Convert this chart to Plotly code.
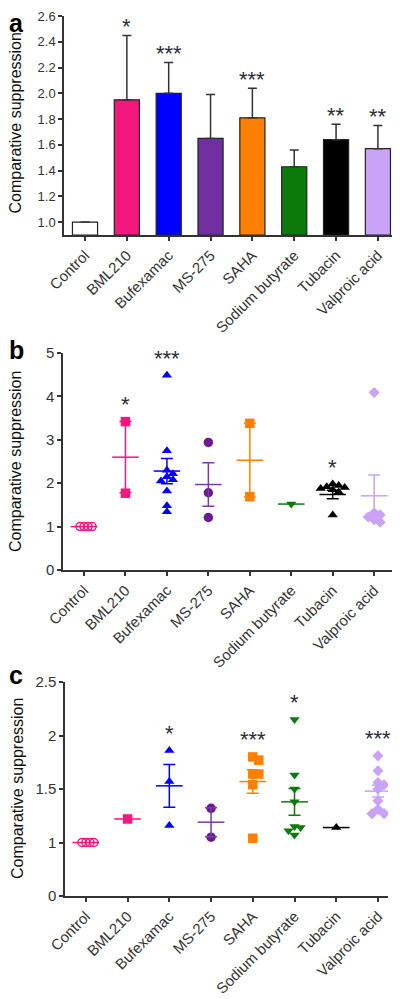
import plotly.graph_objects as go

# ---------------- data ----------------
categories = ["Control", "BML210", "Bufexamac", "MS-275", "SAHA",
              "Sodium butyrate", "Tubacin", "Valproic acid"]

# panel a (bar means and upper error)
a_mean = [1.0, 1.95, 2.0, 1.65, 1.81, 1.43, 1.64, 1.57]
a_err = [0.0, 0.50, 0.24, 0.34, 0.23, 0.13, 0.12, 0.18]
a_stars = ["", "*", "***", "", "***", "", "**", "**"]
a_ticks = [1.0, 1.2, 1.4, 1.6, 1.8, 2.0, 2.2, 2.4, 2.6]

# panel b (individual points, mean, SEM)
b_control = [1.0, 1.0, 1.0, 1.0]
b_bml210 = [3.42, 1.77]
b_bufexamac = [4.49, 2.75, 2.30, 2.22, 2.15, 2.08, 2.05, 1.82, 1.48, 1.34]
b_ms275 = [2.94, 1.78, 1.21]
b_saha = [3.38, 1.69]
b_sodium = [1.52]
b_tubacin = [1.98, 1.95, 1.92, 1.90, 1.88, 1.85, 1.80, 1.27]
b_valproic = [4.09, 1.32, 1.27, 1.22, 1.16, 1.10]
b_mean = [1.0, 2.60, 2.28, 1.97, 2.53, 1.52, 1.74, 1.71]
b_sem = [0.0, 0.82, 0.29, 0.50, 0.85, 0.0, 0.10, 0.48]
b_stars = ["", "*", "***", "", "", "", "*", ""]

# panel c
c_control = [1.0, 1.0, 1.0, 1.0]
c_bml210 = [1.22]
c_bufexamac = [1.86, 1.57, 1.16]
c_ms275 = [1.32, 1.05]
c_saha = [1.80, 1.77, 1.64, 1.64, 1.54, 1.04]
c_sodium = [2.15, 1.63, 1.50, 1.38, 1.15, 1.14, 1.11, 1.07]
c_tubacin = [1.14]
c_valproic = [1.81, 1.67, 1.56, 1.54, 1.50, 1.39, 1.31, 1.27, 1.27]
c_mean = [1.0, 1.22, 1.53, 1.19, 1.57, 1.38, 1.14, 1.48]
c_sem = [0.0, 0.0, 0.20, 0.135, 0.11, 0.125, 0.0, 0.055]
c_stars = ["", "", "*", "", "***", "*", "", "***"]

c_tickvals = [0.5, 1.0, 1.5, 2.0, 2.5]
c_ticktext = ["0", "1", "1.5", "2", "2.5"]

# ---------------- styles ----------------
bar_colors = ["#FFFFFF", "#F2187E", "#0000FF", "#7030A0", "#FF8000",
              "#0B7A0B", "#000000", "#C9A3F6"]
pt_colors = ["#F2187E", "#F2187E", "#0000FF", "#6A1B8E", "#FF8000",
             "#0B7A0B", "#000000", "#C9A3F6"]
mean_colors = ["#F2187E", "#F2187E", "#0000FF", "#7B3AA6", "#FF8000",
               "#0B7A0B", "#000000", "#C9A3F6"]
symbols = ["circle-open", "square", "triangle-up", "circle", "square",
           "triangle-down", "triangle-up", "diamond"]
sizes = [8, 9.5, 9, 9.5, 9.5, 9, 9, 8.5]

FONT = "Arial, Liberation Sans, sans-serif"
AX = "#333333"
TXT = "#333333"
STAR = "#2b2b3a"

OFF = 8            # page body margin
W, H = 400 - OFF, 999 - OFF


def px_x(p):
    return (p - OFF) / W


def px_y(p):
    return 1 - (p - OFF) / H


def swarm(vals, px_per_y, d_px, step_px):
    placed = []
    offs = []
    for v in vals:
        y = v * px_per_y
        cands = [0.0]
        for i in range(1, 30):
            cands += [i * step_px, -i * step_px]
        chosen = 0.0
        for c in cands:
            if all((c - px) ** 2 + (y - py) ** 2 >= d_px ** 2 for px, py in placed):
                chosen = c
                break
        placed.append((chosen, y))
        offs.append(chosen)
    return offs


fig = go.Figure()

# ---------------- panel a ----------------
A_TOP, A_BOT = 16, 235
xs = list(range(len(categories)))
fig.add_trace(go.Bar(
    x=xs, y=[m - 0.9 for m in a_mean], base=0.9, width=0.6,
    marker=dict(color=bar_colors, line=dict(color="#222222", width=1.2)),
    error_y=dict(type="data", array=a_err, arrayminus=[0] * 8, symmetric=False,
                 color=AX, thickness=1.5, width=4.5),
    xaxis="x", yaxis="y", showlegend=False, hoverinfo="skip"))

a_pxy = (A_BOT - A_TOP) / 1.7
for i, s in enumerate(a_stars):
    if s:
        fig.add_annotation(x=i, y=a_mean[i] + a_err[i] + 14 / a_pxy - 5 / a_pxy,
                           xref="x", yref="y", text=s, showarrow=False,
                           font=dict(size=22, color=STAR, family=FONT),
                           yanchor="middle")

# ---------------- panels b, c ----------------
panels = [
    dict(pts=[b_control, b_bml210, b_bufexamac, b_ms275, b_saha, b_sodium, b_tubacin, b_valproic],
         mean=b_mean, sem=b_sem, stars=b_stars, xa="x2", ya="y2", pxy=43.4, pxx=41.4),
    dict(pts=[c_control, c_bml210, c_bufexamac, c_ms275, c_saha, c_sodium, c_tubacin, c_valproic],
         mean=c_mean, sem=c_sem, stars=c_stars, xa="x3", ya="y3", pxy=107.0, pxx=41.7),
]

for P in panels:
    for i, vals in enumerate(P["pts"]):
        d = 4.0 if i == 0 else 5.5
        st = 2.0 if i == 0 else 3.0
        offs = swarm(vals, P["pxy"], d, st)
        px = [i + o / P["pxx"] for o in offs]
        mk = dict(symbol=symbols[i], size=sizes[i], color=pt_colors[i])
        if i == 0:
            mk["line"] = dict(color=pt_colors[i], width=1.5)
        else:
            mk["line"] = dict(width=0)
        fig.add_trace(go.Scatter(x=px, y=vals, mode="markers", marker=mk,
                                 xaxis=P["xa"], yaxis=P["ya"], showlegend=False,
                                 hoverinfo="skip"))
    for i in range(len(categories)):
        fig.add_trace(go.Scatter(
            x=[i], y=[P["mean"][i]], mode="markers",
            marker=dict(size=1, color=mean_colors[i], opacity=0),
            error_x=dict(type="constant", value=0.32, color=mean_colors[i], thickness=1.5, width=0),
            error_y=dict(type="data", array=[P["sem"][i]], color=mean_colors[i],
                         thickness=1.5, width=6, visible=P["sem"][i] > 0),
            xaxis=P["xa"], yaxis=P["ya"], showlegend=False, hoverinfo="skip"))
    for i, s in enumerate(P["stars"]):
        if s:
            top = max(P["pts"][i])
            fig.add_annotation(x=i, y=top + 22 / P["pxy"] - 5 / P["pxy"],
                               xref=P["xa"], yref=P["ya"], text=s, showarrow=False,
                               font=dict(size=22, color=STAR, family=FONT),
                               yanchor="middle")


def dom(top_px, bot_px):
    return [px_y(bot_px), px_y(top_px)]


common_x = dict(showline=True, linecolor=AX, linewidth=1.5, ticks="outside",
                ticklen=4, tickwidth=1.5, tickcolor=AX, showgrid=False,
                zeroline=False, tickmode="array", tickvals=xs, ticktext=categories,
                tickangle=-45, automargin=False,
                tickfont=dict(size=15, color=TXT, family=FONT))
common_y = dict(showline=True, linecolor=AX, linewidth=1.5, ticks="outside",
                ticklen=4, tickwidth=1.5, tickcolor=AX, showgrid=False,
                zeroline=False, automargin=False, ticklabeloverflow="allow",
                tickfont=dict(size=15, color=TXT, family=FONT))

fig.update_layout(
    width=W, height=H, margin=dict(l=0, r=0, t=0, b=0, autoexpand=False),
    paper_bgcolor="white", plot_bgcolor="white",
    font=dict(family=FONT, color=TXT),
    xaxis=dict(common_x, domain=[px_x(64), px_x(398)], range=[-0.502, 7.48], anchor="y"),
    yaxis=dict(common_y, domain=dom(A_TOP, A_BOT), range=[0.9, 2.6005], anchor="x",
               tickmode="array", tickvals=a_ticks,
               ticktext=["%.1f" % t for t in a_ticks],
               tickfont=dict(size=13, color=TXT, family=FONT)),
    xaxis2=dict(common_x, domain=[px_x(63), px_x(392)], range=[-0.507, 7.43], anchor="y2"),
    yaxis2=dict(common_y, domain=dom(353, 570), range=[0, 5.001], anchor="x2",
                tickmode="array", tickvals=[0, 1, 2, 3, 4, 5]),
    xaxis3=dict(common_x, domain=[px_x(65), px_x(388)], range=[-0.50, 7.24], anchor="y3"),
    yaxis3=dict(common_y, domain=dom(682, 896), range=[0.5, 2.5005], anchor="x3",
                tickmode="array", tickvals=c_tickvals, ticktext=c_ticktext),
)

# axis titles
for (xp, top, bot) in [(15, 12, 235), (15.5, 353, 570), (17, 682, 896)]:
    fig.add_annotation(x=px_x(xp), y=px_y((top + bot) / 2), xref="paper", yref="paper",
                       text="Comparative suppression", textangle=-90, showarrow=False,
                       font=dict(size=16, color="#111111", family=FONT),
                       xanchor="center", yanchor="middle")

# panel letters (kept inside the figure's left/top edge)
for (lbl, yp, anchor) in [("a", 8, "top"), ("b", 350, "middle"), ("c", 675, "middle")]:
    fig.add_annotation(x=0, y=px_y(yp), xref="paper", yref="paper",
                       text="<b>%s</b>" % lbl, showarrow=False,
                       font=dict(size=25, color="#000000", family=FONT),
                       xanchor="left", yanchor=anchor, borderpad=0)

fig.write_html("out.html")
